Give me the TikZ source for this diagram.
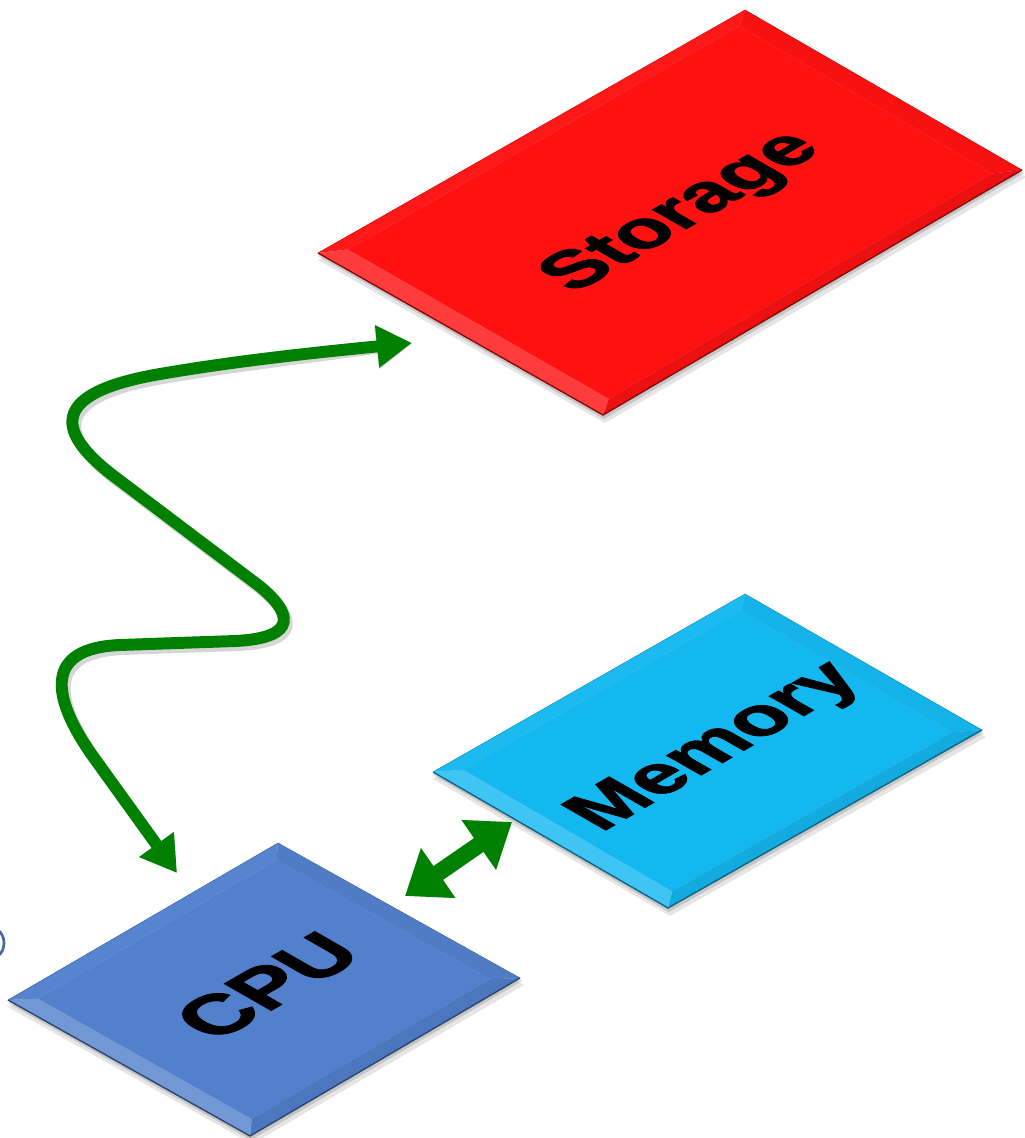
\documentclass[tikz,border=0pt]{standalone}
\usepackage{fontspec}
\setmainfont{Liberation Sans}
\newfontfamily\heavyfont{Liberation Sans Bold}[FakeBold=1.6]
\usetikzlibrary{calc,arrows.meta}
\definecolor{storered}{RGB}{255,17,17}
\definecolor{memblue}{RGB}{20,184,240}
\definecolor{cpublue}{RGB}{82,128,204}
\definecolor{arrowgreen}{RGB}{0,128,0}

% #1 prefix of the four vertex coordinates (T,R,B,L), #2 colour
\newcommand{\isoslab}[2]{%
  \fill[black,opacity=0.10] ($(#1T)+(2,7)$) -- ($(#1R)+(4,7)$) -- ($(#1B)+(2,8)$) -- ($(#1L)+(0,7)$) -- cycle;
  \fill[black,opacity=0.14] ($(#1T)+(1,3)$) -- ($(#1R)+(2,3)$) -- ($(#1B)+(1,4)$) -- ($(#1L)+(0,3)$) -- cycle;
  \coordinate (#1t) at ($(#1T)!0.34cm!(#1B)$);
  \coordinate (#1b) at ($(#1B)!0.34cm!(#1T)$);
  \coordinate (#1l) at ($(#1L)!0.6cm!(#1R)$);
  \coordinate (#1r) at ($(#1R)!0.6cm!(#1L)$);
  \fill[#2] (#1t) -- (#1r) -- (#1b) -- (#1l) -- cycle;
  \fill[#2!97!white] (#1L) -- (#1T) -- (#1t) -- (#1l) -- cycle;
  \fill[#2!97!black] (#1T) -- (#1R) -- (#1r) -- (#1t) -- cycle;
  \fill[#2!93!black] (#1R) -- (#1B) -- (#1b) -- (#1r) -- cycle;
  \fill[#2!82!white] (#1B) -- (#1L) -- (#1l) -- (#1b) -- cycle;
  \draw[#2!55!black,line width=0.8pt] (#1L) -- (#1B) -- (#1R);
  \draw[#2!80!black,line width=0.3pt] (#1L) -- (#1T) -- (#1R);
}

\begin{document}
\begin{tikzpicture}[x=0.02cm,y=-0.02cm,
  lbl/.style={text=black,inner sep=0pt,
              cm={0.866,0.5,-0.82,0.47,(0,0)}},
  curvy/.style={draw=arrowgreen,line width=6.8pt,
                arrows={Triangle[length=20pt,width=23pt]-Triangle[length=20pt,width=23pt]}},
  shortarr/.style={draw=arrowgreen,line width=9.5pt,
                arrows={Triangle[length=23pt,width=33pt]-Triangle[length=23pt,width=33pt]}},
  shadowarr/.style={draw=black,opacity=0.16}]
\useasboundingbox (0,0) rectangle (1024,1138);

% slab vertices
\coordinate (sT) at (745,10);  \coordinate (sR) at (1022,170);
\coordinate (sB) at (603,415); \coordinate (sL) at (318,253);
\coordinate (mT) at (745,594); \coordinate (mR) at (982,730);
\coordinate (mB) at (668,908); \coordinate (mL) at (433,772);
\coordinate (cT) at (278,843); \coordinate (cR) at (520,978);
\coordinate (cB) at (250,1136); \coordinate (cL) at (8,1000);

\isoslab{s}{storered}
\isoslab{m}{memblue}
\isoslab{c}{cpublue}

\node[lbl,font=\fontsize{44}{44}\selectfont\heavyfont] (storage) at (683,213) {Storage};
\node[lbl,font=\fontsize{45}{45}\selectfont\heavyfont] (memory) at (717,748) {Memory};
\node[lbl,font=\fontsize{47}{47}\selectfont\heavyfont] (cpu) at (267,986) {CPU};

% connector end points
\coordinate (stoIn) at (412,343);
\coordinate (cpuIn) at (177,873);
\coordinate (cpuMem) at (405,896);
\coordinate (memCpu) at (512,822);

% shadows of arrows
\begin{scope}[shift={(3,4)}]
\draw[curvy,shadowarr] (cpuIn) -- (92,755) .. controls (50,695) and (45,648) .. (120,645) -- (235,641)
   .. controls (300,638) and (292,612) .. (258,585) -- (115,477)
   .. controls (50,428) and (55,392) .. (160,374) .. controls (230,362) and (300,354) .. (stoIn);
\draw[shortarr,shadowarr] (cpuMem) -- (memCpu);
\end{scope}

\draw[curvy] (cpuIn) -- (92,755) .. controls (50,695) and (45,648) .. (120,645) -- (235,641)
   .. controls (300,638) and (292,612) .. (258,585) -- (115,477)
   .. controls (50,428) and (55,392) .. (160,374) .. controls (230,362) and (300,354) .. (stoIn);
\draw[shortarr] (cpuMem) -- (memCpu);

% clipped mark at the left edge
\draw[cpublue!80!black,line width=1.5pt] (-2,930) .. controls (6,936) and (6,950) .. (-2,956);
\end{tikzpicture}
\end{document}
